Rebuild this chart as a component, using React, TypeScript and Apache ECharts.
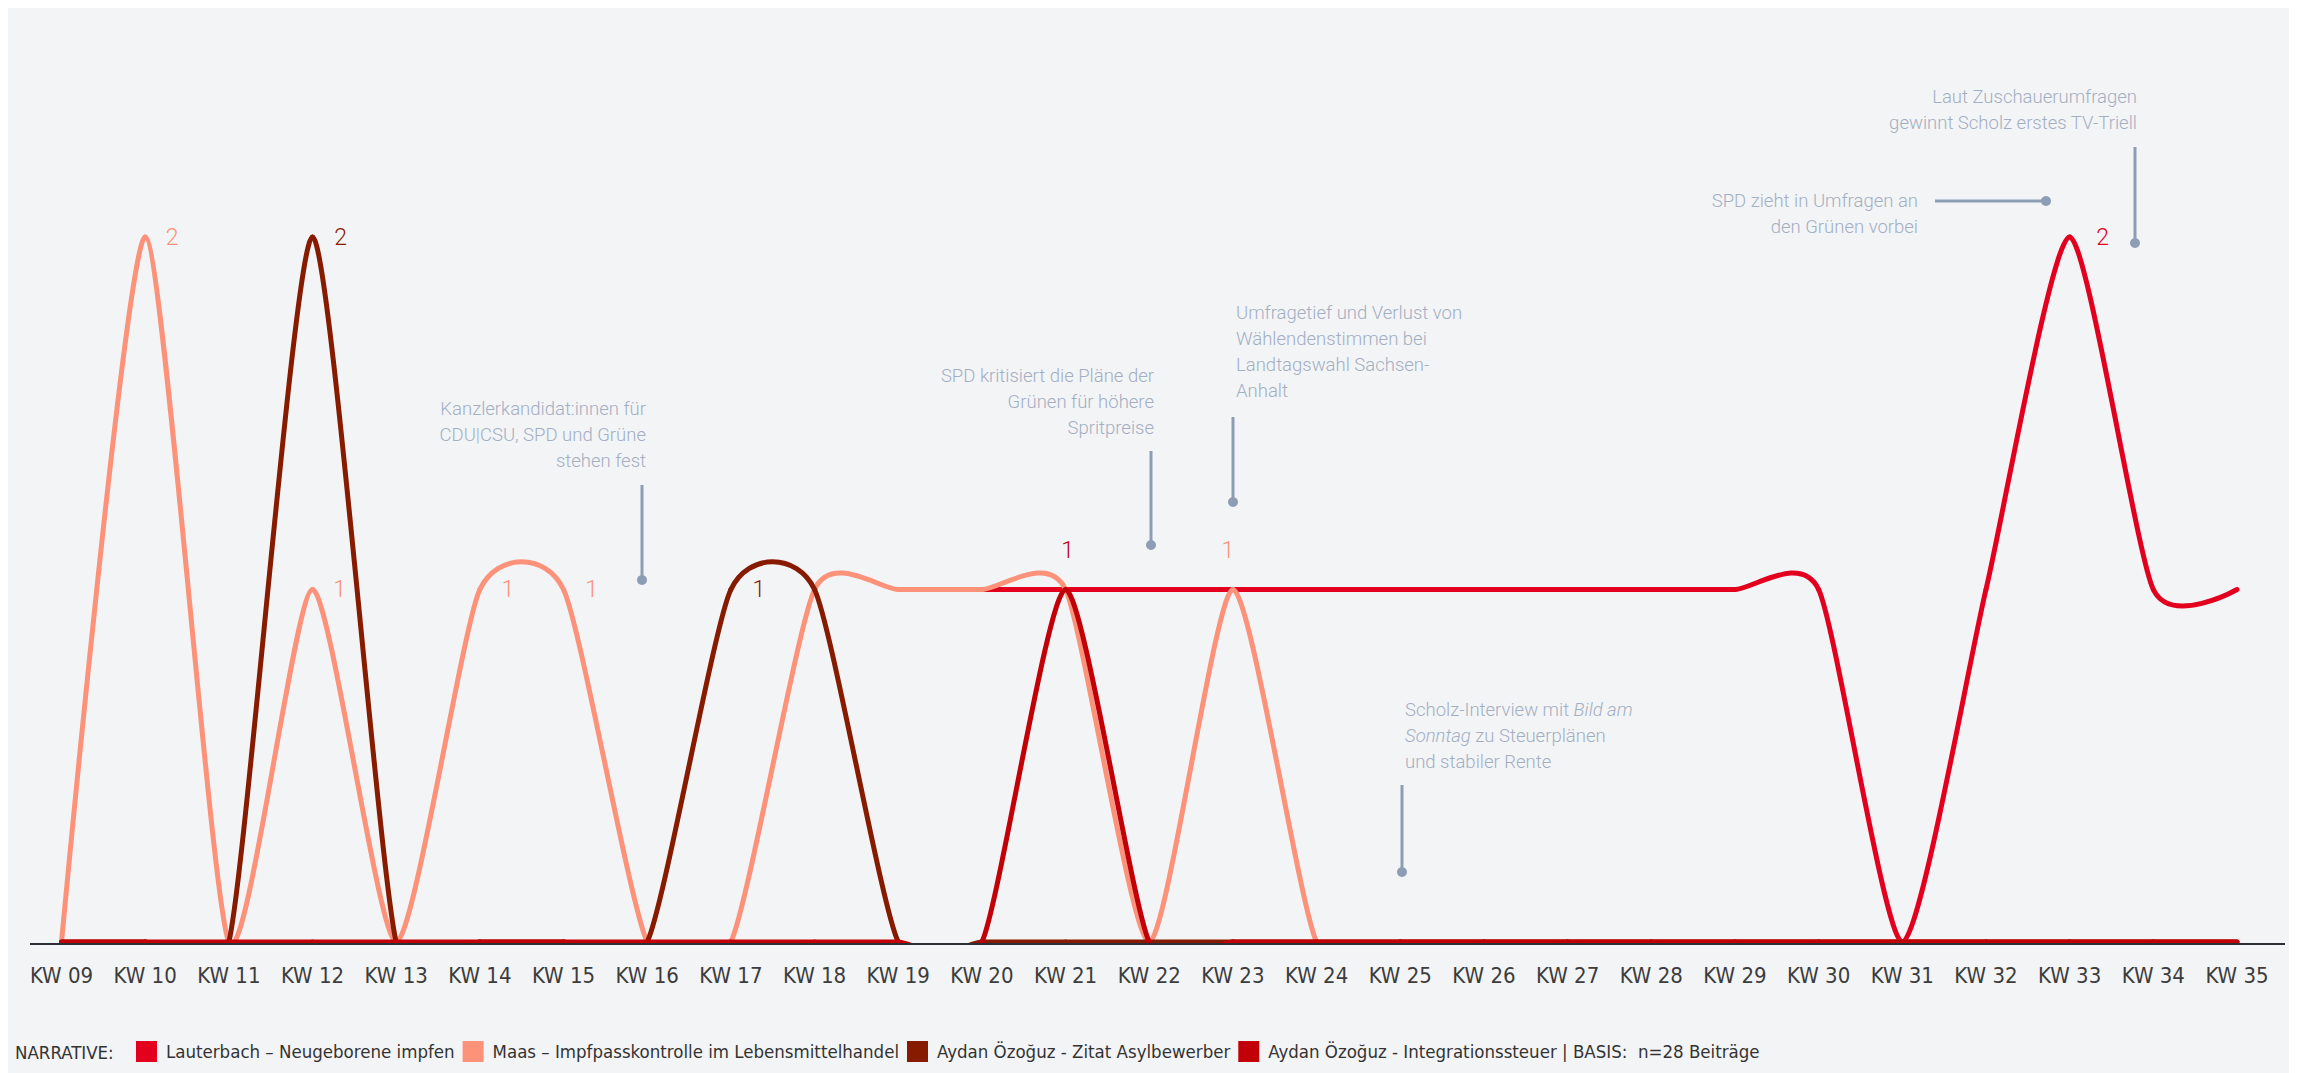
import React, { useEffect, useRef } from "react";
import * as echarts from "echarts";

// ---------- data ----------
const WEEKS = [
  "KW 09", "KW 10", "KW 11", "KW 12", "KW 13", "KW 14", "KW 15", "KW 16", "KW 17",
  "KW 18", "KW 19", "KW 20", "KW 21", "KW 22", "KW 23", "KW 24", "KW 25", "KW 26",
  "KW 27", "KW 28", "KW 29", "KW 30", "KW 31", "KW 32", "KW 33", "KW 34", "KW 35",
];

const LAUTERBACH: (number | null)[] = [
  null, null, null, null, null, null, null, null, null, null, null,
  1, 1, 1, 1, 1, 1, 1, 1, 1, 1, 1, 0, 1, 2, 1, 1,
];
const MAAS: (number | null)[] = [
  0, 2, 0, 1, 0, 1, 1, 0, 0, 1, 1, 1, 1, 0, 1, 0, 0, 0, 0, 0, 0, 0, 0, 0, 0, 0, 0,
];
const ZITAT: (number | null)[] = [
  0, 0, 0, 2, 0, 0, 0, 0, 1, 1, 0, 0, 0, 0, 0, 0, 0, 0, 0, 0, 0, 0, 0, 0, 0, 0, 0,
];
const INTEGRATION: (number | null)[] = [
  0, 0, 0, 0, 0, 0, 0, 0, 0, 0, 0, 0, 1, 0, 0, 0, 0, 0, 0, 0, 0, 0, 0, 0, 0, 0, 0,
];

const SERIES_NAMES = [
  "Lauterbach – Neugeborene impfen",
  "Maas – Impfpasskontrolle im Lebensmittelhandel",
  "Aydan Özoğuz - Zitat Asylbewerber",
  "Aydan Özoğuz - Integrationssteuer",
];
const BASIS_TEXT = "BASIS:  n=28 Beiträge";

// which points carry a value label
const LABELED_WEEKS: Record<string, string[]> = {
  lauterbach: ["KW 33"],
  maas: ["KW 10", "KW 12", "KW 14", "KW 15", "KW 23"],
  zitat: ["KW 12", "KW 17"],
  integration: ["KW 21"],
};

// ---------- style ----------
const COLORS = {
  lauterbach: "#e3001f",
  maas: "#fb9279",
  zitat: "#871b00",
  integration: "#c20008",
};
const LABEL_OFFSET: Record<string, [number, number]> = {
  "lauterbach|KW 33": [33, 0],
  "maas|KW 10": [27, 0],
  "maas|KW 12": [27, 0],
  "maas|KW 14": [28, 0],
  "maas|KW 15": [28, 0],
  "maas|KW 23": [-5, -39],
  "zitat|KW 12": [28, 0],
  "zitat|KW 17": [28, 0],
  "integration|KW 21": [2, -39],
};
const TENSION = 0.37;
const NARROW = "'Liberation Sans Narrow', 'DejaVu Sans Condensed', 'Roboto', sans-serif";
const ANNO_FONT = "Roboto, Inter, 'Open Sans', sans-serif";
const ANNO_TEXT = "#a2afc3";
const ANNO_LINE = "#8e9db6";

function makeRenderItem(key: string, values: (number | null)[], color: string) {
  const k = (1 - TENSION) / 6;
  const labeled = (LABELED_WEEKS[key] || []).map((w) => WEEKS.indexOf(w));
  return (params: any, api: any) => {
    const i = params.dataIndex;
    const cs = params.coordSys;
    const pt = (j: number) =>
      j < 0 || j >= values.length || values[j] == null ? null : api.coord([j, values[j]]);
    const p1 = pt(i);
    if (!p1) return null;
    const children: any[] = [];
    const p2 = pt(i + 1);
    if (p2) {
      const p0 = pt(i - 1);
      const p3 = pt(i + 2);
      const c1 = p0 ? [p1[0] + k * (p2[0] - p0[0]), p1[1] + k * (p2[1] - p0[1])] : p1;
      const c2 = p3 ? [p2[0] - k * (p3[0] - p1[0]), p2[1] - k * (p3[1] - p1[1])] : p2;
      children.push({
        type: "group",
        clipPath: {
          type: "rect",
          shape: { x: cs.x - 30, y: cs.y - 40, width: cs.width + 60, height: cs.height + 41 },
        },
        children: [
          {
            type: "bezierCurve",
            shape: {
              x1: p1[0], y1: p1[1], x2: p2[0], y2: p2[1],
              cpx1: c1[0], cpy1: c1[1], cpx2: c2[0], cpy2: c2[1],
            },
            style: { stroke: color, lineWidth: 5, fill: null, lineCap: "round" },
          },
        ],
      });
    }
    if (labeled.indexOf(i) >= 0) {
      const off = LABEL_OFFSET[key + "|" + WEEKS[i]] || [28, 0];
      children.push({
        type: "text",
        x: p1[0] + off[0],
        y: p1[1] + off[1],
        z2: 10,
        style: {
          text: String(values[i]),
          fill: color,
          fontSize: 23,
          fontFamily: ANNO_FONT,
          fontWeight: 300,
          align: "center",
          verticalAlign: "middle",
        },
      });
    }
    return { type: "group", children };
  };
}

function annoText(x: number, y: number, text: string, align: string, rich?: any) {
  return {
    type: "text",
    x,
    y,
    style: {
      text,
      fill: ANNO_TEXT,
      fontSize: 18.5,
      fontFamily: ANNO_FONT,
      fontWeight: 300,
      lineHeight: 26,
      align,
      verticalAlign: "top",
      rich,
    },
  };
}
function leader(x1: number, y1: number, x2: number, y2: number) {
  return [
    { type: "line", shape: { x1, y1, x2, y2 }, style: { stroke: ANNO_LINE, lineWidth: 3 } },
    { type: "circle", shape: { cx: x2, cy: y2, r: 5 }, style: { fill: ANNO_LINE } },
  ];
}

export default function App() {
  const ref = useRef<HTMLDivElement>(null);
  useEffect(() => {
    if (!ref.current) return;
    const chart = echarts.init(ref.current, null, { renderer: "svg" });
    const defs = [
      { key: "lauterbach", values: LAUTERBACH, name: SERIES_NAMES[0] },
      { key: "maas", values: MAAS, name: SERIES_NAMES[1] },
      { key: "zitat", values: ZITAT, name: SERIES_NAMES[2] },
      { key: "integration", values: INTEGRATION, name: SERIES_NAMES[3] },
    ];
    const series = defs.map((d) => {
      const color = (COLORS as any)[d.key];
      return {
        type: "custom",
        name: d.name,
        coordinateSystem: "cartesian2d",
        itemStyle: { color },
        encode: { x: 0, y: 1 },
        renderItem: makeRenderItem(d.key, d.values, color),
        data: d.values.map((v, i) => [i, v == null ? "-" : v]),
      };
    });
    const richItalic = {
      i: {
        fontStyle: "italic",
        fontSize: 18.5,
        fontFamily: ANNO_FONT,
        fontWeight: 300,
        fill: ANNO_TEXT,
        lineHeight: 26,
      },
    };
    chart.setOption({
      animation: false,
      backgroundColor: "transparent",
      grid: { left: 53.5, right: 52, top: 229, bottom: 131, containLabel: false },
      xAxis: {
        type: "category",
        data: WEEKS,
        boundaryGap: false,
        axisLine: { show: false },
        axisTick: { show: false },
        splitLine: { show: false },
        axisLabel: {
          interval: 0,
          margin: 22,
          fontSize: 22,
          fontFamily: NARROW,
          color: "#3c3c3c",
        },
      },
      yAxis: {
        type: "value",
        min: 0,
        max: 2,
        interval: 1,
        show: false,
        splitLine: { show: false },
      },
      legend: {
        left: 128,
        top: 1033,
        padding: 0,
        icon: "rect",
        itemWidth: 21,
        itemHeight: 21,
        itemGap: 8,
        selectedMode: false,
        data: SERIES_NAMES,
        formatter: (name: string) =>
          name === SERIES_NAMES[3] ? name + " | " + BASIS_TEXT : name,
        textStyle: { fontSize: 18.5, fontFamily: NARROW, color: "#333", padding: [0, 0, 0, 4] },
      },
      graphic: [
        {
          type: "line",
          shape: { x1: 22, y1: 936, x2: 2277, y2: 936 },
          style: { stroke: "#2a2e35", lineWidth: 2 },
          z: 0,
        },
        {
          type: "text",
          x: 7,
          y: 1044,
          style: {
            text: "NARRATIVE:",
            fontSize: 18.5,
            fontFamily: NARROW,
            fill: "#333",
            verticalAlign: "middle",
          },
        },
        annoText(638, 388, "Kanzlerkandidat:innen für\nCDU|CSU, SPD und Grüne\nstehen fest", "right"),
        ...leader(634, 477, 634, 572),
        annoText(1146, 355, "SPD kritisiert die Pläne der\nGrünen für höhere\nSpritpreise", "right"),
        ...leader(1143, 443, 1143, 537),
        annoText(1228, 292, "Umfragetief und Verlust von\nWählendenstimmen bei\nLandtagswahl Sachsen-\nAnhalt", "left"),
        ...leader(1225, 409, 1225, 494),
        annoText(1910, 180, "SPD zieht in Umfragen an\nden Grünen vorbei", "right"),
        ...leader(1927, 193, 2038, 193),
        annoText(2129, 76, "Laut Zuschauerumfragen\ngewinnt Scholz erstes TV-Triell", "right"),
        ...leader(2127, 139, 2127, 235),
        annoText(
          1397,
          689,
          "Scholz-Interview mit {i|Bild am}\n{i|Sonntag} zu Steuerplänen\nund stabiler Rente",
          "left",
          richItalic
        ),
        ...leader(1394, 777, 1394, 864),
      ],
      series,
    });
    return () => chart.dispose();
  }, []);
  return (
    <div
      ref={ref}
      style={{
        position: "absolute",
        left: 8,
        top: 8,
        width: 2281,
        height: 1065,
        background: "#f3f4f6",
      }}
    />
  );
}
